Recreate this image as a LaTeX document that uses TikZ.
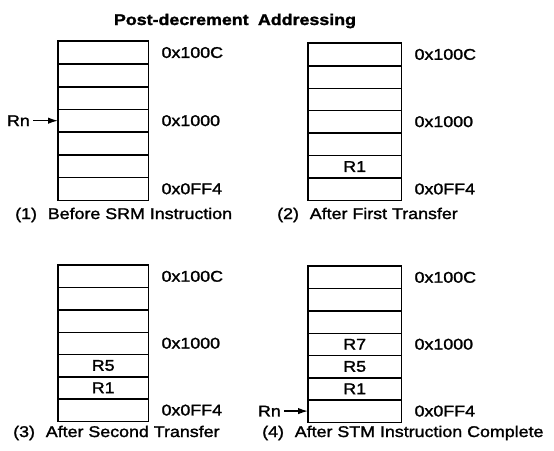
\documentclass[tikz,border=0pt]{standalone}
\usepackage{fontspec}
\setmainfont{Liberation Sans}[FakeStretch=1.15, FakeBold=1.6]
\usetikzlibrary{arrows.meta}
\newcommand\memcol[5]{%
  \foreach \i in {1,...,7}{%
    \node[cell, minimum width=#4pt, minimum height=#5pt] (#1c\i) at (#2,{#3+(\i-1)*#5}) {};}
  \draw[grid] (#1c1.north west) rectangle (#1c7.south east);
  \foreach \i in {1,...,6}{\draw[grid] (#1c\i.south west) -- (#1c\i.south east);}}
\begin{document}
\begin{tikzpicture}[x=1pt,y=-1pt,
  txt/.style={font=\fontsize{15.5}{18}\selectfont, inner sep=0pt},
  cell/.style={inner sep=0pt, anchor=north west},
  grid/.style={line width=1.5pt},
  ptr/.style={-{Latex[length=10pt,width=6.5pt]}, line width=1.4pt, shorten <=3pt}]
\useasboundingbox (0,0) rectangle (554,450);
\node[txt, font=\fontsize{15.5}{18}\selectfont\bfseries, anchor=base] (title) at (235,25) {Post-decrement\hspace{0.6em}Addressing};
% (1)
\memcol{a}{58}{41}{90}{22.71}
\node[txt, anchor=west] (a1) at ([xshift=13pt]ac1.east) {0x100C};
\node[txt, anchor=west] (a2) at ([xshift=13pt]ac4.east) {0x1000};
\node[txt, anchor=west] (a3) at ([xshift=13pt]ac7.east) {0x0FF4};
\node[txt, anchor=east] (arn) at ([xshift=-28pt]ac4.west) {Rn};
\draw[ptr] (arn.east) -- (ac4.west);
\node[txt, anchor=base west] (acap) at (15,219) {(1)\hspace{0.7em}Before SRM Instruction};
% (2)
\memcol{b}{308}{43}{93}{22.43}
\node[txt, anchor=west] (b1) at ([xshift=13pt]bc1.east) {0x100C};
\node[txt, anchor=west] (b2) at ([xshift=13pt]bc4.east) {0x1000};
\node[txt, anchor=west] (b3) at ([xshift=13pt]bc7.east) {0x0FF4};
\node[txt] (br1) at (bc6) {R1};
\node[txt, anchor=base west] (bcap) at (277,219) {(2)\hspace{0.7em}After First Transfer};
% (3)
\memcol{c}{58}{265}{90}{22.29}
\node[txt, anchor=west] (c1) at ([xshift=13pt]cc1.east) {0x100C};
\node[txt, anchor=west] (c2) at ([xshift=13pt]cc4.east) {0x1000};
\node[txt, anchor=west] (c3) at ([xshift=13pt]cc7.east) {0x0FF4};
\node[txt] (cr5) at (cc5) {R5};
\node[txt] (cr1) at (cc6) {R1};
\node[txt, anchor=base west] (ccap) at (13,437) {(3)\hspace{0.7em}After Second Transfer};
% (4)
\memcol{d}{308}{266}{93}{22.29}
\node[txt, anchor=west] (d1) at ([xshift=13pt]dc1.east) {0x100C};
\node[txt, anchor=west] (d2) at ([xshift=13pt]dc4.east) {0x1000};
\node[txt, anchor=west] (d3) at ([xshift=13pt]dc7.east) {0x0FF4};
\node[txt] (dr7) at (dc4) {R7};
\node[txt] (dr5) at (dc5) {R5};
\node[txt] (dr1) at (dc6) {R1};
\node[txt, anchor=east] (drn) at ([xshift=-27pt]dc7.west) {Rn};
\draw[ptr] (drn.east) -- (dc7.west);
\node[txt, anchor=base west] (dcap) at (262,437) {(4)\hspace{0.7em}After STM Instruction Complete};
\end{tikzpicture}
\end{document}
